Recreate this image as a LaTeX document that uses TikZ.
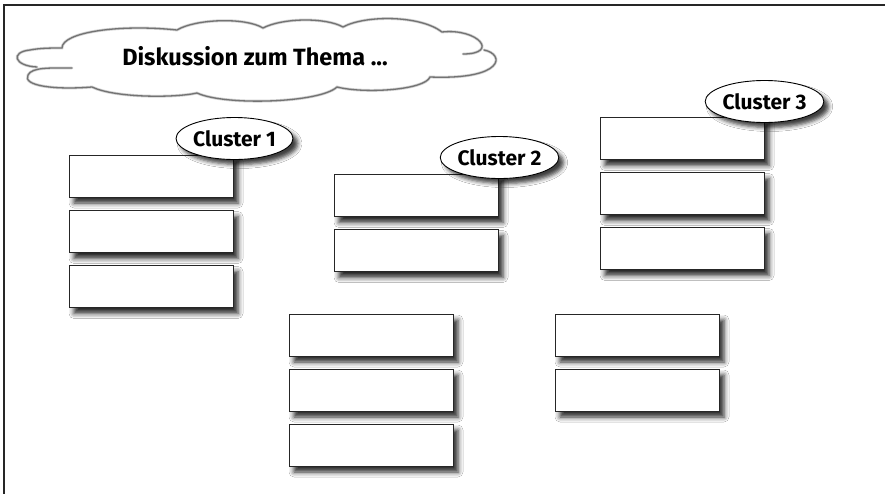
\documentclass[tikz,border=0pt]{standalone}
\usepackage{fontspec}
\setmainfont{Fira Sans}
\usetikzlibrary{shapes.geometric,shadows.blur}

\tikzset{
  card/.style={draw=black!85, line width=0.9pt, fill=white,
    minimum width=164pt, minimum height=42pt, inner sep=0pt,
    blur shadow={shadow xshift=5pt, shadow yshift=-6pt,
      shadow blur radius=5pt, shadow opacity=85}},
  tag/.style={ellipse, draw=black, line width=0.9pt, fill=white,
    minimum width=93pt, minimum height=42pt, inner sep=0pt,
    font=\fontsize{21}{24}\selectfont\bfseries,
    blur shadow={shadow xshift=5pt, shadow yshift=-5pt,
      shadow blur radius=4pt, shadow opacity=75}},
  frameline/.style={draw=black!85, line width=1.8pt},
  cloudhalo/.style={draw=black!18, line width=2.8pt, line cap=round},
  cloudline/.style={draw=black!55, line width=1.3pt, line cap=round}
}

\begin{document}
\begin{tikzpicture}[x=1pt, y=-1pt]
  \useasboundingbox (0,0) rectangle (885,493);
  \fill[white] (0,0) rectangle (885,493);

  % outer frame (top and left edges)
  \coordinate (frameTL) at (4,5);
  \coordinate (frameTR) at (890,5);
  \coordinate (frameBL) at (4,498);
  \draw[frameline] (frameTR) -- (frameTL) -- (frameBL);

  % title cloud, drawn puff by puff
  \foreach \sty in {cloudhalo,cloudline}{
    \draw[\sty]
      (37,67) .. controls (14,66) and (10,52) .. (30,50)
              .. controls (40,48) and (52,48) .. (62,48)
              .. controls (62,32) and (120,24) .. (177,30)
              .. controls (195,19) and (245,17) .. (263,28)
              .. controls (282,18) and (325,17) .. (343,27)
              .. controls (365,15) and (420,15) .. (442,32)
              .. controls (478,28) and (500,54) .. (463,54);
    \draw[\sty]
      (484,50) .. controls (505,54) and (505,80) .. (430,77)
               .. controls (425,90) and (365,94) .. (337,87)
               .. controls (320,103) and (225,106) .. (197,93)
               .. controls (175,98) and (115,98) .. (92,87)
               .. controls (55,90) and (22,86) .. (28,75)
               .. controls (32,67) and (50,68) .. (72,68);
  }
  \node[font=\fontsize{23.5}{26}\selectfont\bfseries, anchor=base]
        (title) at (255,65) {Diskussion zum Thema ...};

  % cluster 1
  \node[card] (c1a) at (151,176) {};
  \node[card] (c1b) at (151,231.5) {};
  \node[card] (c1c) at (151,286.5) {};
  \node[tag] (t1) at (234.5,138.5) {Cluster 1};

  % cluster 2
  \node[card] (c2a) at (416,195.5) {};
  \node[card] (c2b) at (416,250.5) {};
  \node[tag] (t2) at (499.5,157.5) {Cluster 2};

  % cluster 3
  \node[card] (c3a) at (682,138.5) {};
  \node[card] (c3b) at (682,193.5) {};
  \node[card] (c3c) at (682,248.5) {};
  \node[tag] (t3) at (764.5,101.5) {Cluster 3};

  % unsorted cards
  \node[card] (u1) at (371,335) {};
  \node[card] (u2) at (371,390) {};
  \node[card] (u3) at (371,445) {};
  \node[card] (u4) at (637,335) {};
  \node[card] (u5) at (637,390) {};
\end{tikzpicture}
\end{document}
